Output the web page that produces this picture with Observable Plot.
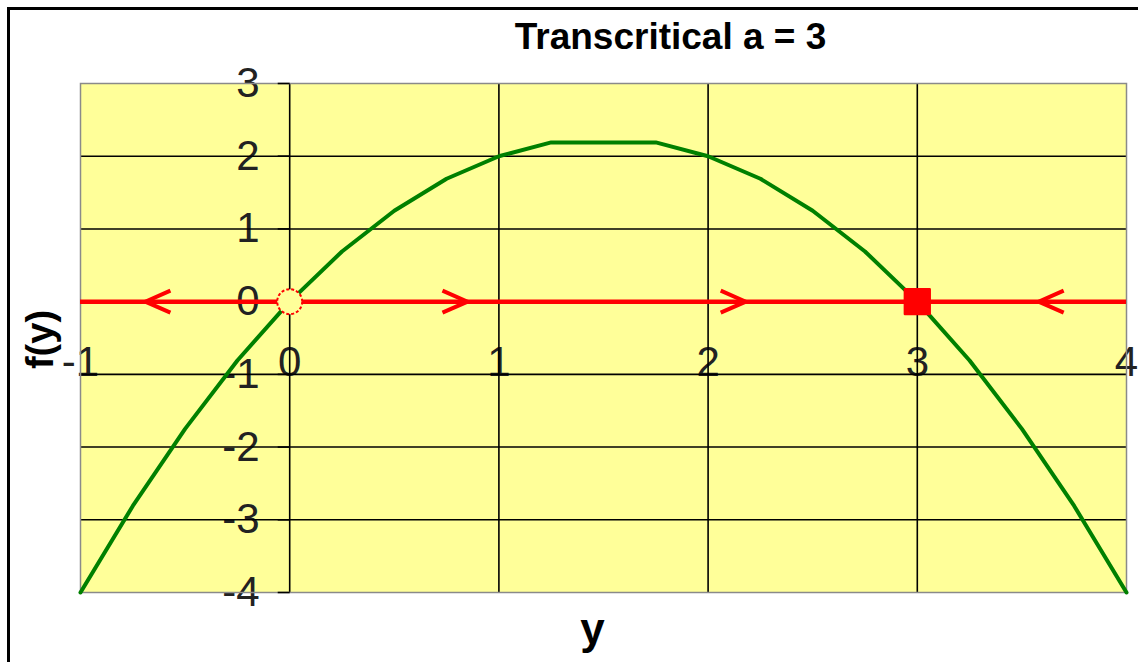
<!DOCTYPE html>
<html>
<head>
<meta charset="utf-8">
<script src="https://cdn.jsdelivr.net/npm/d3@7"></script>
<script src="https://cdn.jsdelivr.net/npm/@observablehq/plot@0.6"></script>
<style>
  html, body { margin: 0; padding: 0; background: #fff; }
  #wrap { position: relative; width: 1138px; height: 662px; overflow: hidden; background: #fff; }
  #chart { position: absolute; left: 0; top: 0; }
  #border { position: absolute; left: 7px; top: 7px; width: 1300px; height: 800px; border: 3px solid #000; box-shadow: 1px 1px 0 #aaa; pointer-events: none; }
</style>
</head>
<body>
<div id="wrap">
  <div id="chart"></div>
  <div id="border"></div>
</div>
<script>
// ---- data ----
const titleText = "Transcritical a = 3";
const xLabel = "y";
const yLabel = "f(y)";
const curveY = [-1, -0.75, -0.5, -0.25, 0, 0.25, 0.5, 0.75, 1, 1.25, 1.75, 2, 2.25, 2.5, 2.75, 3, 3.25, 3.5, 3.75, 4];
const curveF = [-4, -2.81, -1.75, -0.81, 0, 0.69, 1.25, 1.69, 2, 2.19, 2.19, 2, 1.69, 1.25, 0.69, 0, -0.81, -1.75, -2.81, -4];
const xTicks = [-1, 0, 1, 2, 3, 4];
const yTicks = [-4, -3, -2, -1, 0, 1, 2, 3];
const xGrid = [0, 1, 2, 3];
const yGrid = [-3, -2, -1, 0, 1, 2];
const arrowX = [-0.63, 0.79, 2.12, 3.64];
const arrowDir = [-1, 1, 1, -1];
const unstablePts = [0];
const stablePts = [3];

const curve = curveY.map((y, i) => ({y, f: curveF[i]}));
const arrows = arrowX.map((x, i) => ({x, dir: arrowDir[i]}));

const chevron = {
  draw(ctx, size) {
    const r = Math.sqrt(size / Math.PI);
    ctx.moveTo(-r, -r * 0.88);
    ctx.lineTo(r, 0);
    ctx.lineTo(-r, r * 0.88);
  }
};
const tickLeft = {
  draw(ctx, size) {
    const r = Math.sqrt(size / Math.PI);
    ctx.moveTo(-2 * r, 0);
    ctx.lineTo(0, 0);
  }
};

const font = "'Liberation Sans', Arial, sans-serif";

const chart = Plot.plot({
  width: 1138,
  height: 662,
  marginLeft: 80,
  marginRight: 12,
  marginTop: 83,
  marginBottom: 70,
  style: {fontFamily: font, background: "transparent", overflow: "visible"},
  x: {domain: [-1, 4], axis: null},
  y: {domain: [-4, 3], axis: null},
  marks: [
    Plot.frame({fill: "#ffff99"}),
    // tick labels
    Plot.text(yTicks, {x: 0, y: d => d, text: d => String(d), textAnchor: "end", dx: -30, fontSize: 42, fill: "#222", lineAnchor: "middle"}),
    Plot.text(xTicks, {x: d => d, y: -1, text: d => String(d), textAnchor: "middle", lineAnchor: "bottom", dy: 2, fontSize: 42, fill: "#222"}),
    // grid
    Plot.ruleX(xGrid, {stroke: "#000", strokeWidth: 1.6}),
    Plot.ruleY(yGrid, {stroke: "#000", strokeWidth: 1.6}),
    Plot.frame({stroke: "#8a8a8a", strokeWidth: 1.5}),
    Plot.dot(yTicks, {x: 0, y: d => d, symbol: tickLeft, r: 6, stroke: "#000", strokeWidth: 1.6, fill: "none"}),
    // curve
    Plot.line(curve, {x: "y", y: "f", stroke: "#008000", strokeWidth: 4}),
    // phase line
    Plot.ruleY([0], {stroke: "#ff0000", strokeWidth: 4.5}),
    Plot.dot(arrows, {x: "x", y: 0, symbol: chevron, r: 12.5, rotate: d => d.dir > 0 ? 0 : 180, stroke: "#ff0000", strokeWidth: 4, fill: "none", strokeLinejoin: "miter"}),
    Plot.dot(unstablePts, {x: d => d, y: 0, r: 12.5, fill: "#ffff99", stroke: "#ff0000", strokeWidth: 2, strokeDasharray: "3,2"}),
    Plot.dot(stablePts, {x: d => d, y: 0, symbol: "square", r: 14, fill: "#ff0000", stroke: "#ff0000", strokeWidth: 2.5, strokeLinejoin: "round"}),
    // titles
    Plot.text([titleText], {frameAnchor: "top-left", dx: 590, dy: -35, text: d => d, textAnchor: "middle", lineAnchor: "bottom", fontSize: 37, fontWeight: "bold", fill: "#000"}),
    Plot.text([yLabel], {frameAnchor: "left", dx: -40, dy: 1.5, text: d => d, rotate: -90, textAnchor: "middle", lineAnchor: "middle", fontSize: 38, fontWeight: "bold", fill: "#000"}),
    Plot.text([xLabel], {frameAnchor: "bottom", dx: -11, dy: 51, text: d => d, textAnchor: "middle", lineAnchor: "bottom", fontSize: 44, fontWeight: "bold", fill: "#000"})
  ]
});
document.getElementById("chart").appendChild(chart);
</script>
</body>
</html>
